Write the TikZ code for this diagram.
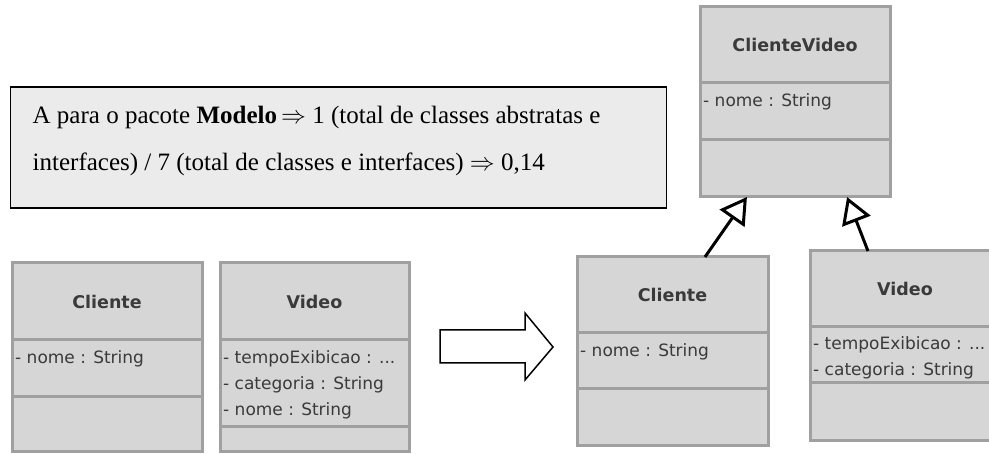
\documentclass[tikz,border=0pt]{standalone}
\usepackage{fontspec}
\setmainfont{Liberation Serif}
\newfontfamily\umlfont{DejaVu Sans}
\usetikzlibrary{arrows.meta,calc}

\definecolor{boxfill}{HTML}{D6D6D6}
\definecolor{boxline}{HTML}{A0A0A0}
\definecolor{notefill}{HTML}{EBEBEB}
\definecolor{umltext}{HTML}{3A3A3A}

\tikzset{
  classpart/.style={draw=boxline, fill=boxfill, line width=3pt, inner sep=0pt, outer sep=0pt,
    font=\umlfont\bfseries\fontsize{17.5}{21}\selectfont, text=umltext},
  attrtext/.style={font=\umlfont\fontsize{17}{26}\selectfont, text=umltext, inner sep=0pt, align=left},
  notebox/.style={draw=black, fill=notefill, line width=1.5pt, inner sep=0pt, outer sep=0pt},
  notetext/.style={font=\fontsize{25}{30}\selectfont, inner sep=0pt},
  inherit/.style={line width=3pt, -{Triangle[open, length=26pt, width=30pt]}},
  bigarrow/.style={draw=black, fill=white, line width=1.5pt, line join=miter}
}

% one class: id, x, y, width, head, attributes, operations, name
\newcommand{\umlclass}[8]{%
  \node[classpart, minimum width=#4, minimum height=#5, anchor=north west] (#1-h) at (#2,#3) {#8};
  \node[classpart, minimum width=#4, minimum height=#6, anchor=north] (#1-a) at (#1-h.south) {};
  \node[classpart, minimum width=#4, minimum height=#7, anchor=north] (#1-o) at (#1-a.south) {};
}

\begin{document}
\begin{tikzpicture}[x=1pt, y=-1pt]
  \clip (0,0) rectangle (989,454);

  % note
  \node[notebox, minimum width=656pt, minimum height=121pt, anchor=north west] (note) at (10.5,87) {};
  \node[notetext, anchor=base west] (note-l1) at ([xshift=22pt, yshift=-37pt]note.north west)
    {A para o pacote \textbf{Modelo}\,$\Rightarrow$ 1 (total de classes abstratas e};
  \node[notetext, anchor=base west] (note-l2) at ([yshift=-47pt]note-l1.base west)
    {interfaces) / 7 (total de classes e interfaces) $\Rightarrow$ 0,14};

  % before
  \umlclass{cl1}{12}{263}{190pt}{77pt}{57pt}{55pt}{Cliente}
  \umlclass{vd1}{220}{263}{189pt}{77pt}{87pt}{25pt}{Video}
  \node[attrtext, anchor=north west] (cl1-t) at ([xshift=3pt, yshift=-10pt]cl1-a.north west) {- nome : String};
  \node[attrtext, anchor=north west] (vd1-t) at ([xshift=3pt, yshift=-10pt]vd1-a.north west)
    {- tempoExibicao : ...\\- categoria : String\\- nome : String};

  % transformation
  \draw[bigarrow] (440,330) -- (525,330) -- (525,313) -- (553,347) -- (525,380) -- (525,363) -- (440,363) -- cycle;

  % after
  \umlclass{cv}{700}{7}{190pt}{76pt}{57pt}{57pt}{ClienteVideo}
  \umlclass{cl2}{577}{257}{191pt}{76pt}{56pt}{57pt}{Cliente}
  \umlclass{vd2}{810}{251}{190pt}{76pt}{56pt}{58pt}{Video}
  \node[attrtext, anchor=north west] (cv-t) at ([xshift=3pt, yshift=-10pt]cv-a.north west) {- nome : String};
  \node[attrtext, anchor=north west] (cl2-t) at ([xshift=3pt, yshift=-10pt]cl2-a.north west) {- nome : String};
  \node[attrtext, anchor=north west] (vd2-t) at ([xshift=3pt, yshift=-9pt]vd2-a.north west)
    {- tempoExibicao : ...\\- categoria : String};

  \coordinate (cl2-in) at ($(cl2-h.north west)!0.67!(cl2-h.north east)$);
  \coordinate (vd2-in) at ($(vd2-h.north west)!0.305!(vd2-h.north east)$);
  \coordinate (cv-out1) at ($(cv-o.south west)!0.247!(cv-o.south east)$);
  \coordinate (cv-out2) at ($(cv-o.south west)!0.774!(cv-o.south east)$);
  \draw[inherit] (cl2-in) -- (cv-out1);
  \draw[inherit] (vd2-in) -- (cv-out2);
\end{tikzpicture}
\end{document}
